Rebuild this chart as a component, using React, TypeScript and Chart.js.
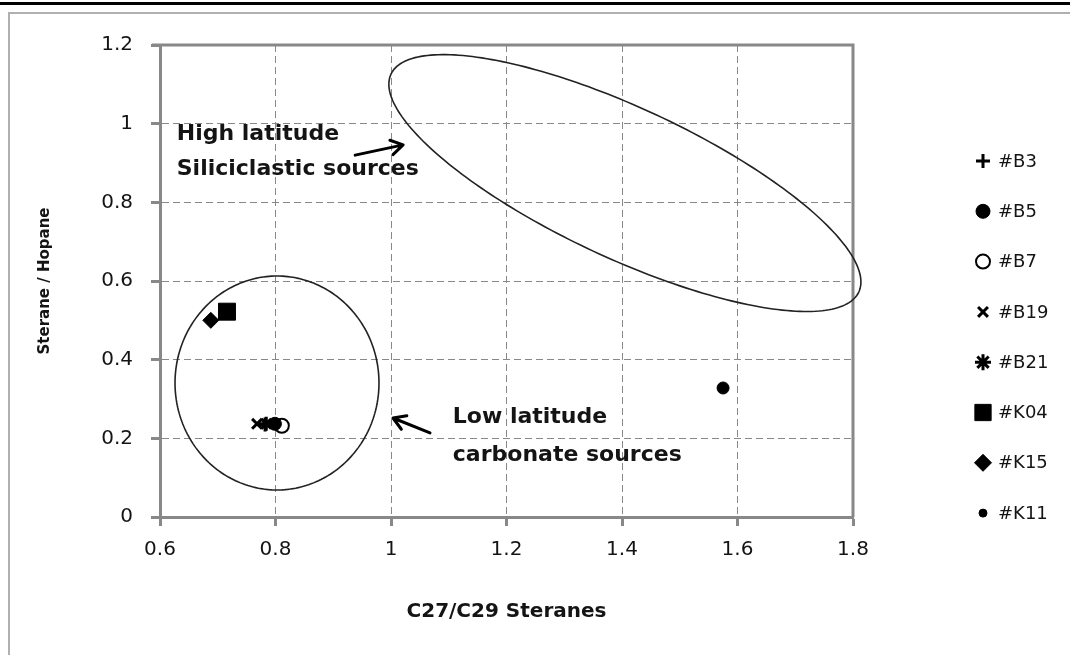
import React, { useEffect, useRef } from 'react';
import { Chart, registerables } from 'chart.js';
import { drawPoint } from 'chart.js/helpers';

Chart.register(...registerables);

// ---- data ----
const seriesLabels = ['#B3', '#B5', '#B7', '#B19', '#B21', '#K04', '#K15', '#K11'];
const xValues = [0.782, 0.799, 0.811, 0.768, 0.784, 0.716, 0.688, 1.575];
const yValues = [0.235, 0.237, 0.232, 0.237, 0.237, 0.522, 0.5, 0.328];
const xTickLabels = ['0.6', '0.8', '1', '1.2', '1.4', '1.6', '1.8'];
const yTickLabels = ['0', '0.2', '0.4', '0.6', '0.8', '1', '1.2'];

// ---- styles ----
const pointStyles = ['cross', 'circle', 'circle', 'crossRot', 'star', 'rect', 'rectRot', 'circle'];
const plotRadii = [7, 6.5, 7, 7, 7, 12, 8, 6];
const legendRadii = [7, 7, 7, 7, 8, 11.5, 8.5, 4];
const fillColors = ['#000', '#000', '#fff', '#000', '#000', '#000', '#000', '#000'];
const borderWidths = [3, 1, 2, 3, 3, 1, 1, 1];

const FONT = '"DejaVu Sans", sans-serif';
const TEXT = '#141414';
const AXIS_GRAY = '#888888';

// annotation shapes in data coordinates (center + two half-axis vectors)
const highEllipse = { cx: 1.405, cy: 0.849, ux: 0.405, uy: -0.277, vx: -0.0549, vy: -0.173 };
const lowCircle = { cx: 0.8026, cy: 0.3407, ux: 0.1766, uy: 0, vx: 0, vy: 0.272 };

const annotationTexts = [
  { text: 'High latitude', x: 0.629, y: 0.973 },
  { text: 'Siliciclastic sources', x: 0.629, y: 0.884 },
  { text: 'Low latitude', x: 1.107, y: 0.254 },
  { text: 'carbonate sources', x: 1.107, y: 0.158 },
];
const arrows = [
  { x1: 0.938, y1: 0.92, x2: 1.021, y2: 0.946 },
  { x1: 1.0675, y1: 0.2136, x2: 1.0035, y2: 0.2517 },
];

function drawEllipse(chart: any, e: any) {
  const { ctx } = chart;
  const xs = chart.scales.x;
  const ys = chart.scales.y;
  const N = 240;
  ctx.beginPath();
  for (let k = 0; k <= N; k++) {
    const t = (2 * Math.PI * k) / N;
    const dx = e.cx + e.ux * Math.cos(t) + e.vx * Math.sin(t);
    const dy = e.cy + e.uy * Math.cos(t) + e.vy * Math.sin(t);
    const px = xs.getPixelForValue(dx);
    const py = ys.getPixelForValue(dy);
    if (k === 0) ctx.moveTo(px, py);
    else ctx.lineTo(px, py);
  }
  ctx.closePath();
  ctx.stroke();
}

const customPlugin = {
  id: 'customDecor',
  beforeDraw(chart: any) {
    const { ctx, width, height } = chart;
    ctx.save();
    ctx.fillStyle = '#fff';
    ctx.fillRect(0, 0, width, height);
    ctx.fillStyle = '#000';
    ctx.fillRect(0, 2, width, 3);
    ctx.strokeStyle = '#b0b0b0';
    ctx.lineWidth = 2;
    ctx.beginPath();
    ctx.moveTo(9, height);
    ctx.lineTo(9, 13);
    ctx.lineTo(width, 13);
    ctx.stroke();
    ctx.restore();
  },
  beforeDatasetsDraw(chart: any) {
    const { ctx, chartArea } = chart;
    ctx.save();
    ctx.strokeStyle = AXIS_GRAY;
    ctx.lineWidth = 3;
    ctx.beginPath();
    ctx.moveTo(chartArea.left - 8, chartArea.top);
    ctx.lineTo(chartArea.right, chartArea.top);
    ctx.lineTo(chartArea.right, chartArea.bottom);
    ctx.stroke();
    ctx.restore();
  },
  afterDatasetsDraw(chart: any) {
    const { ctx } = chart;
    const xs = chart.scales.x;
    const ys = chart.scales.y;
    ctx.save();
    ctx.strokeStyle = '#222';
    ctx.lineWidth = 1.6;
    drawEllipse(chart, highEllipse);
    drawEllipse(chart, lowCircle);

    ctx.fillStyle = TEXT;
    ctx.font = `bold 22px ${FONT}`;
    ctx.textBaseline = 'middle';
    ctx.textAlign = 'left';
    annotationTexts.forEach((a) => {
      ctx.fillText(a.text, xs.getPixelForValue(a.x), ys.getPixelForValue(a.y));
    });

    ctx.strokeStyle = '#000';
    ctx.lineWidth = 3;
    ctx.lineCap = 'round';
    ctx.lineJoin = 'round';
    arrows.forEach((a) => {
      const x1 = xs.getPixelForValue(a.x1);
      const y1 = ys.getPixelForValue(a.y1);
      const x2 = xs.getPixelForValue(a.x2);
      const y2 = ys.getPixelForValue(a.y2);
      const ang = Math.atan2(y2 - y1, x2 - x1);
      const L = 14;
      const spread = 0.55;
      ctx.beginPath();
      ctx.moveTo(x1, y1);
      ctx.lineTo(x2, y2);
      ctx.moveTo(x2 - L * Math.cos(ang - spread), y2 - L * Math.sin(ang - spread));
      ctx.lineTo(x2, y2);
      ctx.lineTo(x2 - L * Math.cos(ang + spread), y2 - L * Math.sin(ang + spread));
      ctx.stroke();
    });
    ctx.restore();
  },
  afterDraw(chart: any) {
    const { ctx } = chart;
    ctx.save();
    const markerX = 983;
    const textX = 998;
    const startY = 161;
    const step = 50.3;
    chart.data.datasets.forEach((ds: any, i: number) => {
      const y = startY + i * step;
      ctx.fillStyle = fillColors[i];
      ctx.strokeStyle = '#000';
      ctx.lineWidth = borderWidths[i];
      drawPoint(ctx, { pointStyle: pointStyles[i], radius: legendRadii[i], rotation: 0, borderWidth: borderWidths[i] } as any, markerX, y);
      ctx.fillStyle = TEXT;
      ctx.font = `18px ${FONT}`;
      ctx.textBaseline = 'middle';
      ctx.textAlign = 'left';
      ctx.fillText(ds.label, textX, y + 1);
    });
    ctx.restore();
  },
};

export default function App() {
  const canvasRef = useRef<HTMLCanvasElement | null>(null);

  useEffect(() => {
    const canvas = canvasRef.current;
    if (!canvas) return;
    const chart = new Chart(canvas, {
      type: 'scatter',
      data: {
        datasets: seriesLabels.map((label, i) => ({
          label,
          data: [{ x: xValues[i], y: yValues[i] }],
          pointStyle: pointStyles[i] as any,
          pointRadius: plotRadii[i],
          pointHoverRadius: plotRadii[i],
          backgroundColor: fillColors[i],
          borderColor: '#000',
          borderWidth: borderWidths[i],
        })),
      },
      options: {
        animation: false,
        responsive: false,
        devicePixelRatio: 1,
        events: [],
        layout: { padding: { left: 20, right: 217, top: 45, bottom: 20 } },
        plugins: {
          legend: { display: false },
          tooltip: { enabled: false },
        },
        scales: {
          x: {
            type: 'linear',
            min: 0.6,
            max: 1.8,
            afterFit: (scale: any) => {
              scale.height = 118;
            },
            ticks: {
              stepSize: 0.2,
              autoSkip: false,
              maxRotation: 0,
              padding: 12,
              color: TEXT,
              font: { family: FONT, size: 20 },
              callback: (v: any, i: number) => xTickLabels[i] ?? String(v),
            },
            grid: {
              color: AXIS_GRAY,
              lineWidth: 1,
              drawTicks: true,
              tickLength: 9,
              tickColor: AXIS_GRAY,
              tickWidth: 3,
              tickBorderDash: [],
            } as any,
            border: { display: true, color: AXIS_GRAY, width: 3, dash: [7, 4] },
            title: {
              display: true,
              text: 'C27/C29 Steranes',
              color: TEXT,
              font: { family: FONT, size: 20, weight: 'bold' },
              padding: { top: 0, bottom: 11 },
            },
          },
          y: {
            type: 'linear',
            min: 0,
            max: 1.2,
            afterFit: (scale: any) => {
              scale.width = 140;
            },
            ticks: {
              stepSize: 0.2,
              autoSkip: false,
              padding: 18,
              color: TEXT,
              font: { family: FONT, size: 20 },
              callback: (v: any, i: number) => yTickLabels[i] ?? String(v),
            },
            grid: {
              color: AXIS_GRAY,
              lineWidth: 1,
              drawTicks: true,
              tickLength: 9,
              tickColor: AXIS_GRAY,
              tickWidth: 3,
              tickBorderDash: [],
            } as any,
            border: { display: true, color: AXIS_GRAY, width: 3, dash: [7, 4] },
            title: {
              display: true,
              text: 'Sterane / Hopane',
              color: TEXT,
              font: { family: FONT, size: 15, weight: 'bold' },
              padding: { top: 16, bottom: 0 },
            },
          },
        },
      },
      plugins: [customPlugin],
    });
    return () => chart.destroy();
  }, []);

  return (
    <div style={{ position: 'absolute', left: 0, top: 0, width: 1070, height: 655, background: '#fff' }}>
      <canvas ref={canvasRef} width={1070} height={655} />
    </div>
  );
}
